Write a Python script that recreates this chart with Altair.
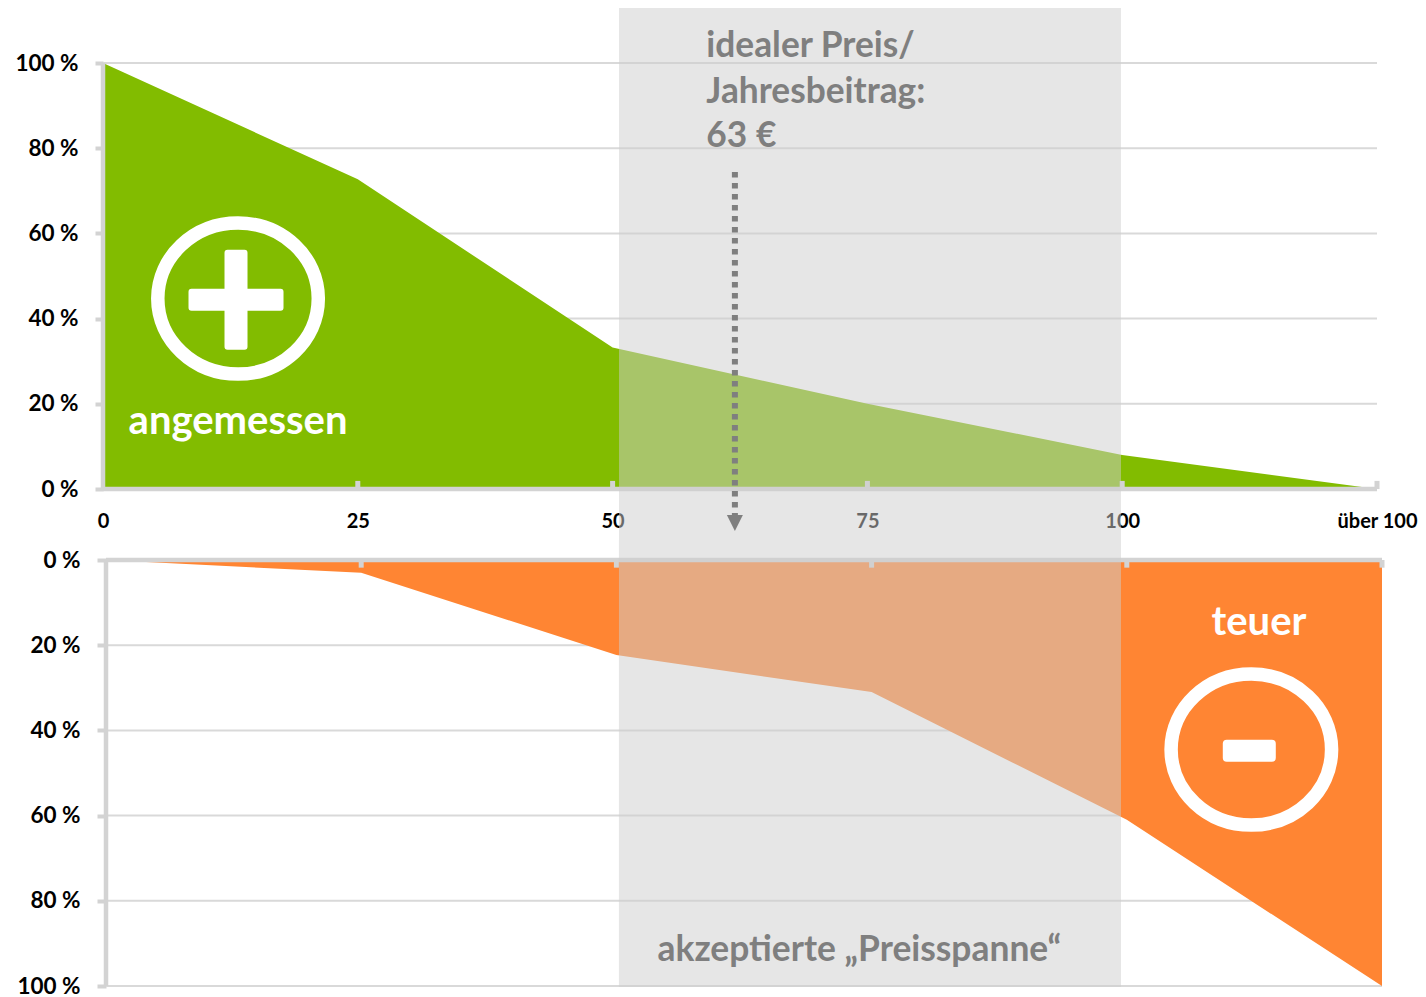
import altair as alt
import pandas as pd

# --- data ---
price_steps = [0, 25, 50, 75, 100, 125]
share_fair = [100, 72.7, 33.2, 20, 8, 0]
share_expensive = [0, 3, 22.3, 31, 61, 100]
pct_ticks = [0, 20, 40, 60, 80, 100]
span_top = [50.63, 99.88]
span_bottom = [50.25, 99.43]
ideal_lines = ["idealer Preis/", "Jahresbeitrag:", "63 €"]
ideal_y = [101.4, 90.6, 80.2]
ideal_x = 59.2
arrow_x = 62
arrow_y = [74.4, -7.5]

GREEN = "#82BC00"
ORANGE = "#FF8533"
AXIS = "#D3D3D3"
GRID = "#D9D9D9"
TEXT = "#7F7F7F"
FONT = "Lato"

RING = "M-1,0 A1,0.941 0 1,1 1,0 A1,0.941 0 1,1 -1,0 Z"
PLUS = ("M-0.17,-1 L0.17,-1 Q0.23,-1 0.23,-0.94 L0.23,-0.22 L0.89,-0.22 Q0.95,-0.22 0.95,-0.16 "
        "L0.95,0.16 Q0.95,0.22 0.89,0.22 L0.23,0.22 L0.23,0.94 Q0.23,1 0.17,1 L-0.17,1 "
        "Q-0.23,1 -0.23,0.94 L-0.23,0.22 L-0.89,0.22 Q-0.95,0.22 -0.95,0.16 L-0.95,-0.16 "
        "Q-0.95,-0.22 -0.89,-0.22 L-0.23,-0.22 L-0.23,-0.94 Q-0.23,-1 -0.17,-1 Z")
MINUS = ("M-0.85,-0.415 L0.85,-0.415 Q1,-0.415 1,-0.265 L1,0.265 Q1,0.415 0.85,0.415 L-0.85,0.415 "
         "Q-1,0.415 -1,0.265 L-1,-0.265 Q-1,-0.415 -0.85,-0.415 Z")
ARROW = "M-1,-1 L1,-1 L0,1 Z"

WIDTH = 1279
HEIGHT = 426


def panel(values, color, x_scale, y_scale, span, y_axis, x_axis, sign_ticks,
          rect_y, rect_y2, extras):
    X = lambda f="x": alt.X(f, type="quantitative", scale=x_scale, axis=x_axis, title=None)
    Y = lambda f="y": alt.Y(f, type="quantitative", scale=y_scale, axis=y_axis, title=None)

    grid = alt.Chart(pd.DataFrame({"x": 0, "x2": 125, "y": pct_ticks})).mark_rule(
        color=GRID, strokeWidth=2
    ).encode(x=X(), x2="x2", y=Y())

    area = alt.Chart(pd.DataFrame({"x": price_steps, "y": values, "b": 0})).mark_area(
        color=color, opacity=1
    ).encode(x=X(), y=Y(), y2="b")

    base_h = alt.Chart(pd.DataFrame({"x": [0], "x2": [125], "y": [0]})).mark_rule(
        color=AXIS, strokeWidth=4.5
    ).encode(x=X(), x2="x2", y=Y())
    base_v = alt.Chart(pd.DataFrame({"x": [0], "y": [0], "y2": [100]})).mark_rule(
        color=AXIS, strokeWidth=4.5
    ).encode(x=X(), y=Y(), y2="y2")
    ticks = alt.Chart(pd.DataFrame({"x": price_steps[1:], "y": 0, "y2": sign_ticks})).mark_rule(
        color=AXIS, strokeWidth=5
    ).encode(x=X(), y=Y(), y2="y2")

    rect = alt.Chart(pd.DataFrame({"x": [span[0]], "x2": [span[1]]})).mark_rect(
        color="#CECECE", opacity=0.51
    ).encode(x=X(), x2="x2", y=alt.value(rect_y), y2=alt.value(rect_y2))

    under, over = extras(X, Y)
    return alt.layer(grid, area, base_h, base_v, ticks, *under, rect, *over).properties(
        width=WIDTH, height=HEIGHT
    )


def label(df, size, color, align="left"):
    return alt.Chart(df).mark_text(
        font=FONT, fontWeight="bold", fontSize=size, color=color, align=align, baseline="alphabetic"
    )


def icon(x, y, shape, size, ring, X, Y):
    c = alt.Chart(pd.DataFrame({"x": [x], "y": [y]}))
    if ring:
        m = c.mark_point(shape=shape, size=size, filled=False, stroke="white", strokeWidth=13.5, opacity=1)
    else:
        m = c.mark_point(shape=shape, size=size, filled=True, fill="white", strokeWidth=0, opacity=1)
    return m.encode(x=X(), y=Y())


def top_extras(X, Y):
    under = [
        icon(13.25, 44.7, RING, 25760, True, X, Y),
        icon(13.05, 44.4, PLUS, 10000, False, X, Y),
        label(pd.DataFrame({"x": [13.25], "y": [13.0], "t": ["angemessen"]}), 40, "white", "center").encode(
            x=X(), y=Y(), text="t"),
    ]
    over = [
        label(pd.DataFrame({"x": ideal_x, "y": ideal_y, "t": ideal_lines}), 35.3, TEXT).encode(
            x=X(), y=Y(), text="t"),
        alt.Chart(pd.DataFrame({"x": [arrow_x], "y": [arrow_y[0]], "y2": [arrow_y[1]]})).mark_rule(
            color=TEXT, strokeWidth=6, strokeDash=[5.5, 5.5]
        ).encode(x=X(), y=Y(), y2="y2"),
        alt.Chart(pd.DataFrame({"x": [arrow_x], "y": [-8.0]})).mark_point(
            shape=ARROW, size=256, filled=True, fill=TEXT, strokeWidth=0, opacity=1
        ).encode(x=X(), y=Y()),
    ]
    return under, over


def bottom_extras(X, Y):
    under = [
        icon(112.2, 44.5, RING, 25760, True, X, Y),
        icon(112.0, 44.8, MINUS, 2809, False, X, Y),
        label(pd.DataFrame({"x": [112.95], "y": [17.6], "t": ["teuer"]}), 40, "white", "center").encode(
            x=X(), y=Y(), text="t"),
    ]
    over = [
        label(pd.DataFrame({"x": [73.8], "y": [94.1], "t": ["akzeptierte „Preisspanne“"]}), 35.4, TEXT, "center").encode(
            x=X(), y=Y(), text="t"),
    ]
    return under, over


y_axis_top = alt.Axis(values=pct_ticks, labelExpr="datum.label + ' %'", grid=False, domain=False,
                      tickColor=AXIS, tickWidth=4, tickSize=8, labelPadding=17, labelFont=FONT,
                      labelFontWeight="bold", labelFontSize=22.5, labelColor="#000000")
y_axis_bottom = alt.Axis(values=pct_ticks, labelExpr="datum.label + ' %'", grid=False, domain=False,
                         tickColor=AXIS, tickWidth=4, tickSize=9, labelPadding=17, offset=-3,
                         labelFont=FONT, labelFontWeight="bold", labelFontSize=22.5, labelColor="#000000")
x_axis_top = alt.Axis(values=price_steps, labelExpr="datum.value == 125 ? 'über 100' : datum.label",
                      grid=False, domain=False, ticks=False, labelPadding=22, labelFont=FONT,
                      labelFontWeight="bold", labelFontSize=20, labelColor="#000000",
                      labelOverlap=False, labelBound=False, labelFlush=False)

top = panel(
    share_fair, GREEN,
    alt.Scale(domain=[0, 125], range=[0, 1274], nice=False),
    alt.Scale(domain=[0, 100], nice=False),
    span_top, y_axis_top, x_axis_top, 1.9, -55, 477, top_extras,
)
bottom = panel(
    share_expensive, ORANGE,
    alt.Scale(domain=[0, 125], range=[3, 1279], nice=False),
    alt.Scale(domain=[0, 100], nice=False, reverse=True),
    span_bottom, y_axis_bottom, None, 1.8, -20, 427, bottom_extras,
)

chart = alt.vconcat(top, bottom, spacing=71, bounds="flush").configure_view(stroke=None).properties(
    padding={"left": 6, "top": 0, "right": 0, "bottom": 0}
)
chart.save("out.html", embed_options={"renderer": "svg", "actions": False})
